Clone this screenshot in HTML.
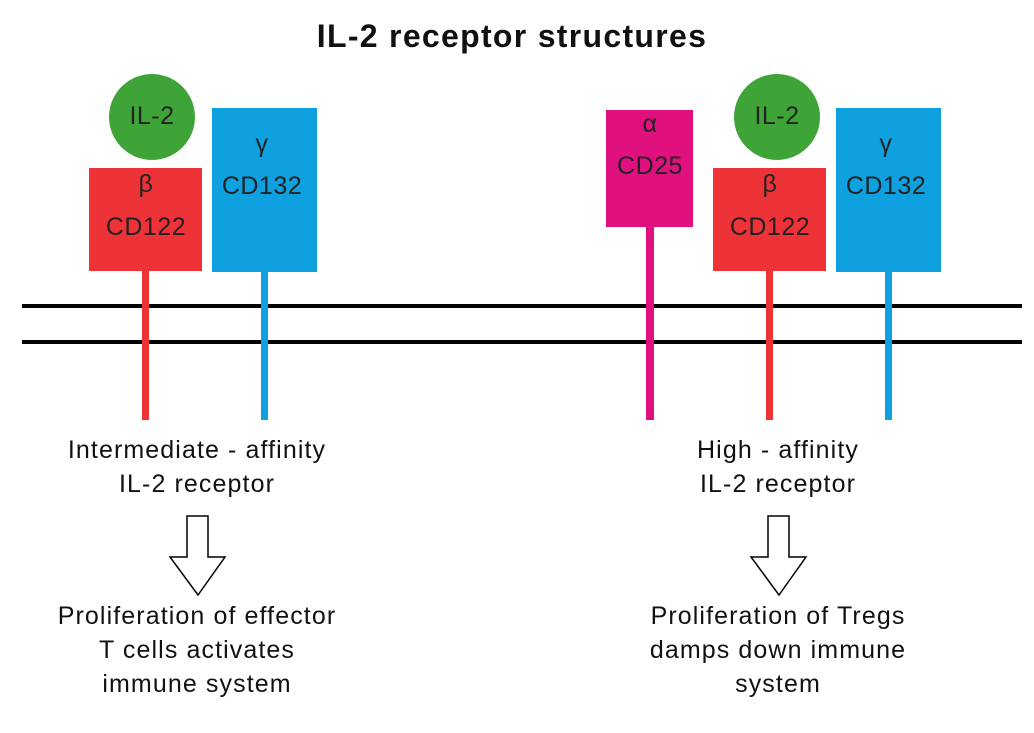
<!DOCTYPE html>
<html><head><style>
body{margin:0;background:#fff;}
svg text{font-family:"Liberation Sans",sans-serif;}
</style></head><body>
<svg width="1034" height="728" xmlns="http://www.w3.org/2000/svg">
<rect width="1034" height="728" fill="#fff"/>
<text x="512" y="47" text-anchor="middle" font-size="32" font-weight="bold" fill="#111" letter-spacing="1.3">IL-2 receptor structures</text>
<line x1="22" y1="306" x2="1022" y2="306" stroke="#000" stroke-width="4"/>
<line x1="22" y1="342" x2="1022" y2="342" stroke="#000" stroke-width="4"/>
<!-- left -->
<rect x="142" y="270" width="7" height="150" fill="#ee3338"/>
<rect x="261" y="270" width="7" height="150" fill="#0fa0e0"/>
<circle cx="152" cy="117" r="43" fill="#3ea437"/>
<rect x="89" y="168" width="113" height="103" fill="#ee3338"/>
<rect x="212" y="108" width="105" height="164" fill="#0fa0e0"/>
<g font-size="25" fill="#222" text-anchor="middle" letter-spacing="0.5">
<text x="152" y="124">IL-2</text>
<text x="146" y="192">β</text>
<text x="146" y="235">CD122</text>
<text x="262" y="152">γ</text>
<text x="262" y="194">CD132</text>
</g>
<!-- right -->
<rect x="646" y="226" width="8" height="194" fill="#e0117f"/>
<rect x="766" y="270" width="7" height="150" fill="#ee3338"/>
<rect x="885" y="270" width="7" height="150" fill="#0fa0e0"/>
<rect x="606" y="110" width="87" height="117" fill="#e0117f"/>
<circle cx="777" cy="117" r="43" fill="#3ea437"/>
<rect x="713" y="168" width="113" height="103" fill="#ee3338"/>
<rect x="836" y="108" width="105" height="164" fill="#0fa0e0"/>
<g font-size="25" fill="#222" text-anchor="middle" letter-spacing="0.5">
<text x="650" y="132">α</text>
<text x="650" y="174">CD25</text>
<text x="777" y="124">IL-2</text>
<text x="770" y="192">β</text>
<text x="770" y="235">CD122</text>
<text x="886" y="152">γ</text>
<text x="886" y="194">CD132</text>
</g>
<g font-size="25" fill="#111" text-anchor="middle" letter-spacing="1.1">
<text x="197" y="458">Intermediate - affinity</text>
<text x="197" y="492">IL-2 receptor</text>
<text x="197" y="624">Proliferation of effector</text>
<text x="197" y="658">T cells activates</text>
<text x="197" y="692">immune system</text>
<text x="778" y="458">High - affinity</text>
<text x="778" y="492">IL-2 receptor</text>
<text x="778" y="624">Proliferation of Tregs</text>
<text x="778" y="658">damps down immune</text>
<text x="778" y="692">system</text>
</g>
<polygon points="187,516 208,516 208,557 225,557 198,595 170,557 187,557" fill="#fff" stroke="#000" stroke-width="1.5"/>
<polygon points="768,516 789,516 789,557 806,557 779,595 751,557 768,557" fill="#fff" stroke="#000" stroke-width="1.5"/>
</svg>
</body></html>
